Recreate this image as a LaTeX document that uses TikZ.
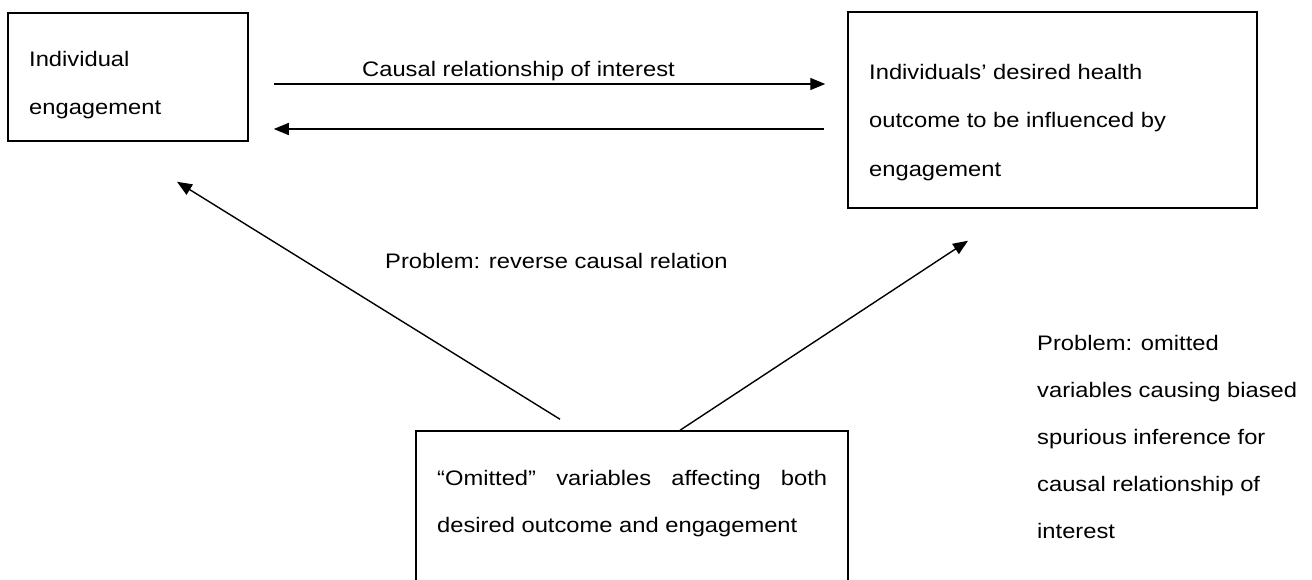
\documentclass[tikz,border=0pt]{standalone}
\usepackage{fontspec}
\setmainfont{Liberation Sans}[FakeStretch=1.13]
\usetikzlibrary{arrows.meta}
\begin{document}
\begin{tikzpicture}[x=1pt,y=-1pt,
  box/.style={draw,line width=1.5pt,rectangle,inner sep=0pt},
  txt/.style={anchor=base west,inner sep=0pt,font=\fontsize{21}{25}\selectfont},
  arr/.style={line width=1.4pt,-{Triangle[length=15pt,width=12pt]}}]
\useasboundingbox (0,0) rectangle (1312,580);
% boxes
\node[box,minimum width=240pt,minimum height=128pt] (b1) at (128,77) {};
\node[box,minimum width=409pt,minimum height=196pt] (b2) at (1052.5,110) {};
\node[box,minimum width=432pt,minimum height=180pt] (b3) at (632,521) {};
% texts
\node[txt] (t1a) at (29,67) {Individual};
\node[txt] (t1b) at (29,115) {engagement};
\node[txt] (t2a) at (869,80) {Individuals’ desired health};
\node[txt] (t2b) at (869,128) {outcome to be influenced by};
\node[txt] (t2c) at (869,177) {engagement};
\node[txt] (t3a) at (437,485) {\makebox[390pt][s]{“Omitted” variables affecting both}};
\node[txt] (t3b) at (437,532) {desired outcome and engagement};
\node[txt] (lc) at (362,77) {Causal relationship of interest};
\node[txt] (lr) at (385,269) {Problem: reverse causal relation};
\node[txt] (lo1) at (1037,350) {Problem: omitted};
\node[txt] (lo2) at (1037,397) {variables causing biased};
\node[txt] (lo3) at (1037,444) {spurious inference for};
\node[txt] (lo4) at (1037,491) {causal relationship of};
\node[txt] (lo5) at (1037,538) {interest};
% connectors
\coordinate (ya) at (0,84);
\coordinate (yb) at (0,129);
\draw[arr,shorten <=25pt,shorten >=22pt] (b1.east |- ya) -- (b2.west |- ya);
\draw[arr,shorten <=23pt,shorten >=25pt] (b2.west |- yb) -- (b1.east |- yb);
\draw[arr] ([shift={(-72,-11)}]b3.north) -- ([shift={(49,40)}]b1.south);
\draw[arr] ([shift={(48,0)}]b3.north) -- ([shift={(-84.5,32)}]b2.south);
\end{tikzpicture}
\end{document}
